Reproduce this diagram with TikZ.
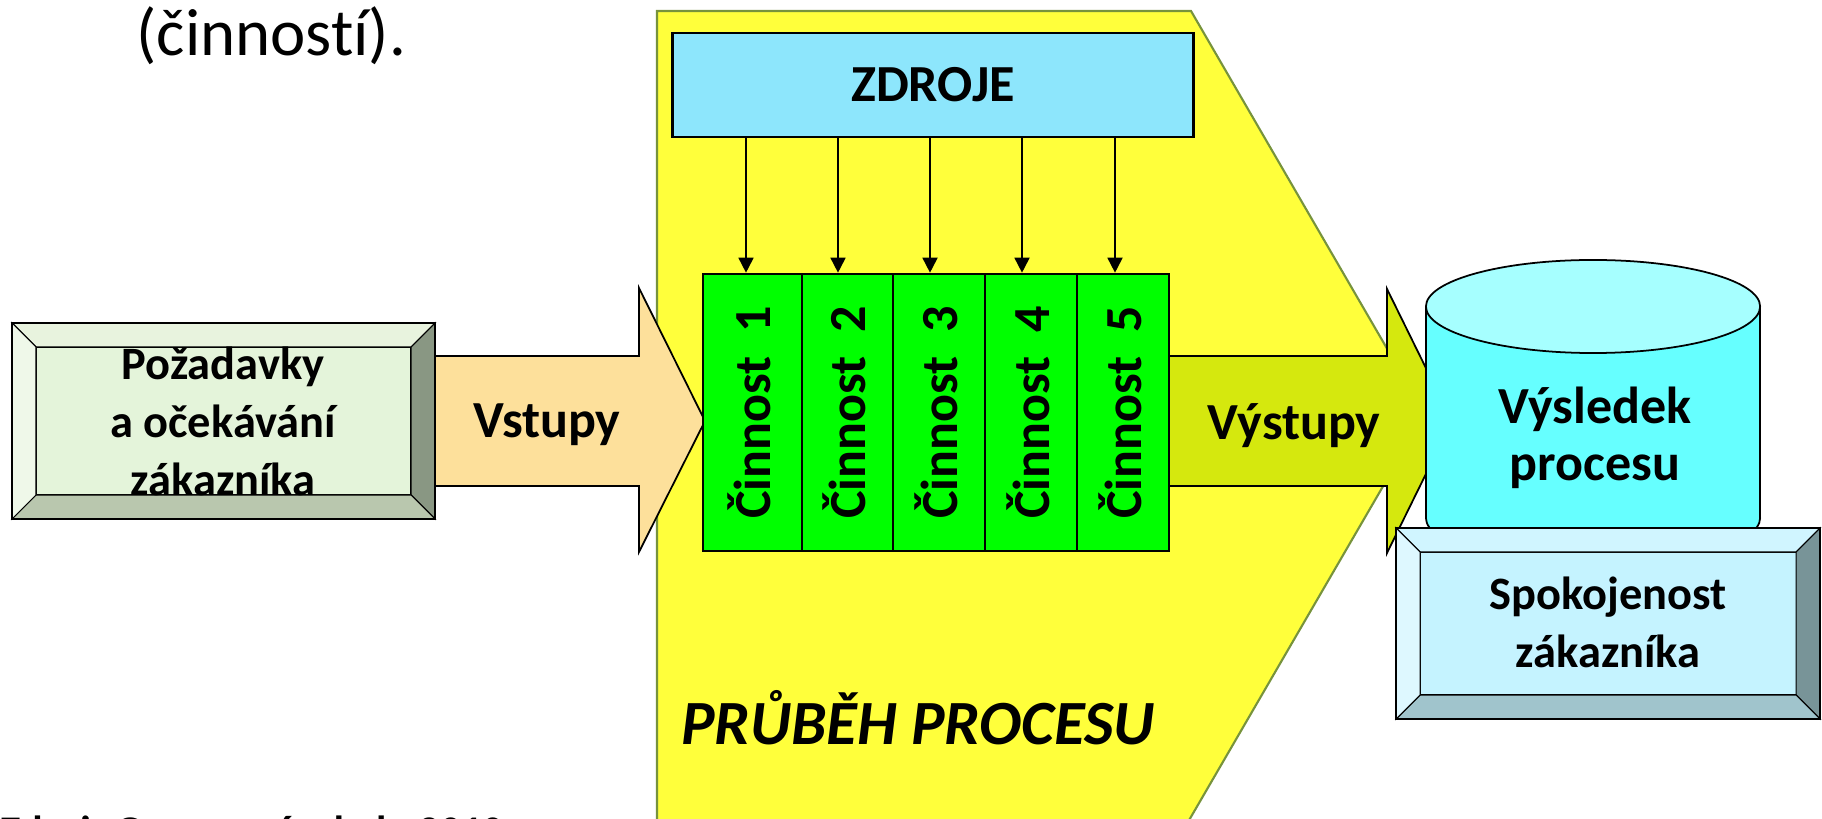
\documentclass[tikz,border=0pt]{standalone}
\usepackage{fontspec}
\setmainfont{Carlito}[Ligatures=NoCommon]
\usepackage{tikz}
\usetikzlibrary{arrows.meta}
\usetikzlibrary{positioning}

\definecolor{procyellow}{RGB}{255,255,59}
\definecolor{procedge}{RGB}{119,147,60}
\definecolor{zdrojblue}{RGB}{141,230,252}
\definecolor{cingreen}{RGB}{0,255,0}
\definecolor{vstupfill}{RGB}{253,224,155}
\definecolor{vystupfill}{RGB}{213,232,14}
\definecolor{cylside}{RGB}{102,255,255}
\definecolor{cyltop}{RGB}{166,255,255}
\definecolor{pozFace}{RGB}{228,244,218}
\definecolor{pozTop}{RGB}{232,243,222}
\definecolor{pozLeft}{RGB}{239,248,233}
\definecolor{pozRight}{RGB}{137,151,131}
\definecolor{pozBottom}{RGB}{185,199,174}
\definecolor{spoFace}{RGB}{197,243,255}
\definecolor{spoTop}{RGB}{208,245,255}
\definecolor{spoLeft}{RGB}{222,248,255}
\definecolor{spoRight}{RGB}{120,148,152}
\definecolor{spoBottom}{RGB}{160,196,204}

% #1 colour prefix, #2-#5 corners, #6 bevel
\newcommand{\bevelbox}[6]{%
    \filldraw[bevel, fill=#1Face] (#2+#6,#3+#6) rectangle (#4-#6,#5-#6);
    \filldraw[bevel, fill=#1Top] (#2,#3) -- (#4,#3) -- (#4-#6,#3+#6) -- (#2+#6,#3+#6) -- cycle;
    \filldraw[bevel, fill=#1Right] (#4,#3) -- (#4,#5) -- (#4-#6,#5-#6) -- (#4-#6,#3+#6) -- cycle;
    \filldraw[bevel, fill=#1Bottom] (#4,#5) -- (#2,#5) -- (#2+#6,#5-#6) -- (#4-#6,#5-#6) -- cycle;
    \filldraw[bevel, fill=#1Left] (#2,#5) -- (#2,#3) -- (#2+#6,#3+#6) -- (#2+#6,#5-#6) -- cycle;
    \draw[line width=0.7pt] (#2,#3) rectangle (#4,#5);
}

\begin{document}
\begin{tikzpicture}[x=0.01cm, y=-0.01cm,
    bevel/.style={draw=black, line width=0.3pt},
    blockarrow/.style={draw=black, line width=0.5pt},
    bigtext/.style={inner sep=0pt, font=\fontsize{14.8pt}{16.2pt}\selectfont\bfseries},
    boxtext/.style={inner sep=0pt, align=center, font=\fontsize{13.2pt}{16.5pt}\selectfont\bfseries},
    activity/.style={draw=black, line width=0.7pt, fill=cingreen, minimum height=2.77cm, inner sep=0pt},
    activitytext/.style={bigtext, rotate=90, anchor=base},
    res/.style={-{Triangle[length=0.15cm, width=0.15cm]}, line width=0.5pt}]
    \useasboundingbox (0,0) rectangle (1822,819);
    \clip (0,0) rectangle (1822,819);

    \node[anchor=base west, inner sep=0pt, font=\fontsize{19pt}{22pt}\selectfont] (intro) at (136,56) {(činností).};

    \filldraw[fill=procyellow, draw=procedge, line width=0.6pt] (657,11) -- (1191,11) -- (1425,414) -- (1188,822) -- (657,822) -- cycle;

    \node[draw=black, line width=0.8pt, fill=zdrojblue, minimum width=5.2cm, minimum height=1.04cm, bigtext] (zdroje) at (933,85) {ZDROJE};

    \filldraw[blockarrow, fill=vstupfill] (435,356) -- (639,356) -- (639,288) -- (705,421) -- (639,552) -- (639,486) -- (435,486) -- cycle;
    \node[bigtext, anchor=base] (vstupy) at (547,438) {Vstupy};

    \filldraw[blockarrow, fill=vystupfill] (1169,356) -- (1387,356) -- (1387,289) -- (1452,421) -- (1387,553) -- (1387,486) -- (1169,486) -- cycle;
    \node[bigtext, anchor=base] (vystupy) at (1294,440) {Výstupy};

    \node[activity, minimum width=0.99cm] (c1) at (752.5,412.5) {};
    \node[activity, minimum width=0.91cm] (c2) at (847.5,412.5) {};
    \node[activity, minimum width=0.92cm] (c3) at (939,412.5) {};
    \node[activity, minimum width=0.92cm] (c4) at (1031,412.5) {};
    \node[activity, minimum width=0.92cm] (c5) at (1123,412.5) {};
    \node[activitytext] (t1) at ([xshift=0.18cm]c1.center) {Činnost~~1};
    \node[activitytext] (t2) at ([xshift=0.18cm]c2.center) {Činnost~~2};
    \node[activitytext] (t3) at ([xshift=0.18cm]c3.center) {Činnost~~3};
    \node[activitytext] (t4) at ([xshift=0.18cm]c4.center) {Činnost~~4};
    \node[activitytext] (t5) at ([xshift=0.18cm]c5.center) {Činnost~~5};

    \draw[res] ([xshift=-0.065cm]c1.north |- zdroje.south) -- ([xshift=-0.065cm]c1.north);
    \draw[res] ([xshift=-0.095cm]c2.north |- zdroje.south) -- ([xshift=-0.095cm]c2.north);
    \draw[res] ([xshift=-0.09cm]c3.north |- zdroje.south) -- ([xshift=-0.09cm]c3.north);
    \draw[res] ([xshift=-0.09cm]c4.north |- zdroje.south) -- ([xshift=-0.09cm]c4.north);
    \draw[res] ([xshift=-0.08cm]c5.north |- zdroje.south) -- ([xshift=-0.08cm]c5.north);

    \filldraw[fill=cylside, draw=black, line width=0.5pt] (1593,518) ellipse (1.67cm and 0.465cm);
    \fill[cylside] (1426,306.5) rectangle (1760,518);
    \draw[line width=0.5pt] (1426,306.5) -- (1426,518);
    \draw[line width=0.5pt] (1760,306.5) -- (1760,518);
    \filldraw[fill=cyltop, draw=black, line width=0.5pt] (1593,306.5) ellipse (1.67cm and 0.465cm);
    \node[bigtext, align=center] (vysledek) at (1595,438) {Výsledek\\procesu};

    \bevelbox{poz}{12}{323}{435}{519}{24}
    \node[boxtext] (pozadavky) at (223,421) {Požadavky\\a očekávání\\zákazníka};

    \bevelbox{spo}{1396}{528}{1820}{719}{24}
    \node[boxtext] (spokojenost) at (1608,622) {Spokojenost\\zákazníka};

    \node[anchor=base, inner sep=0pt, font=\fontsize{17.9pt}{20pt}\selectfont\bfseries\itshape] (prubeh) at (918,744) {PRŮBĚH PROCESU};

    \node[anchor=base west, inner sep=0pt, font=\fontsize{12pt}{14pt}\selectfont\bfseries] (zdroj) at (0,845) {Zdroj: Grasseová a kol., 2010};
\end{tikzpicture}
\end{document}
